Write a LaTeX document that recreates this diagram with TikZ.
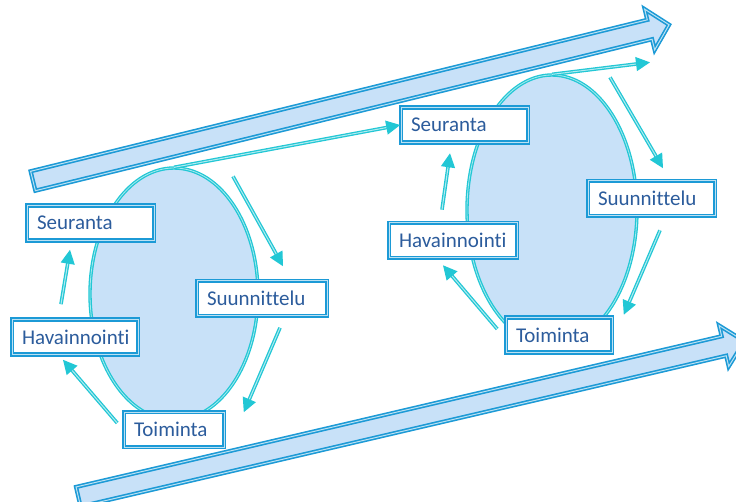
\documentclass[tikz,border=0pt]{standalone}
\usepackage{fontspec}
\setmainfont{Carlito}[Ligatures=NoCommon]
\usetikzlibrary{arrows.meta,shapes.geometric,calc}
\definecolor{boxblue}{RGB}{28,154,214}
\definecolor{txtblue}{RGB}{44,92,156}
\definecolor{arrcyan}{RGB}{34,199,213}
\definecolor{fillblue}{RGB}{200,225,248}
\tikzset{
    fase/.style={draw=boxblue, line width=1.6pt, double=boxblue!30, double distance=1pt,
        fill=white, minimum height=35pt, inner xsep=10pt, inner ysep=0pt, align=left,
        text=txtblue, font=\fontsize{21}{25}\selectfont},
    ciclo/.style={ellipse, draw=arrcyan, line width=1.3pt, double=arrcyan!40,
        double distance=0.8pt, fill=fillblue, inner sep=0pt},
    flujo/.style={draw=arrcyan, line width=1.3pt, double=arrcyan!35, double distance=1pt,
        -{Triangle[length=14pt,width=14pt]}},
    flecha/.style={draw=boxblue, line width=1.6pt, double=boxblue!30, double distance=1pt,
        fill=fillblue, line join=miter}
}
\begin{document}
\begin{tikzpicture}[x=1pt,y=-1pt]
    \useasboundingbox (0,0) rectangle (736,502);
    \clip (0,0) rectangle (736,502);

    % Flechas grandes (tiempo)
    \begin{scope}[shift={(33,181)}, rotate=13.8]
        \draw[flecha] (0,-10) -- (635,-10) -- (635,-21) -- (655,0) -- (635,21) -- (635,10) -- (0,10) -- cycle;
    \end{scope}
    \begin{scope}[shift={(78.3,496.7)}, rotate=13.14]
        \draw[flecha] (0,-10) -- (663,-10) -- (663,-21) -- (684,0) -- (663,21) -- (663,10) -- (0,10) -- cycle;
    \end{scope}

    % Ciclos
    \node[ciclo, minimum width=168pt, minimum height=252pt] (ellL) at (174,294) {};
    \node[ciclo, minimum width=170pt, minimum height=270pt] (ellR) at (552,210) {};

    % Fases, primer ciclo
    \node[fase, text width=107pt] (seurL) at (90.5,223) {Seuranta};
    \node[fase, text width=106pt] (havL) at (75,337) {Havainnointi};
    \node[fase, text width=110pt] (suunL) at (262,298.5) {Suunnittelu};
    \node[fase, text width=80pt] (toimL) at (174,429.5) {Toiminta};

    % Fases, segundo ciclo
    \node[fase, text width=107pt] (seurR) at (464.5,125) {Seuranta};
    \node[fase, text width=107pt] (suunR) at (651.5,198.5) {Suunnittelu};
    \node[fase, text width=108pt] (havR) at (453,240.5) {Havainnointi};
    \node[fase, text width=86pt] (toimR) at (559,335) {Toiminta};

    % Flechas del primer ciclo
    \draw[flujo] (ellL.north) -- (seurR.west);
    \draw[flujo] ($(ellL.north)+(59,9)$) -- ($(suunL.north)+(21,-14)$);
    \draw[flujo] ($(suunL.south)+(18,11)$) -- ($(toimL.north east)+(19,1)$);
    \draw[flujo] ($(toimL.west)+(-6,-6.5)$) -- ($(havL.south)+(-12,4.5)$);
    \draw[flujo] ($(havL.north)+(-14,-14.5)$) -- ($(seurL.south)+(-20.5,8.5)$);

    % Flechas del segundo ciclo
    \draw[flujo] (ellR.north) -- ($(ellR.north)+(98,-12)$);
    \draw[flujo] ($(ellR.north)+(58,3)$) -- ($(suunR.north)+(11.5,-12)$);
    \draw[flujo] ($(suunR.south)+(8.5,13.5)$) -- ($(toimR.north east)+(11,-2)$);
    \draw[flujo] ($(toimR.west)+(-8,-6)$) -- ($(havR.south)+(-10,6.5)$);
    \draw[flujo] ($(havR.north)+(-11,-12.5)$) -- ($(seurR.south)+(-14.5,10)$);
\end{tikzpicture}
\end{document}
